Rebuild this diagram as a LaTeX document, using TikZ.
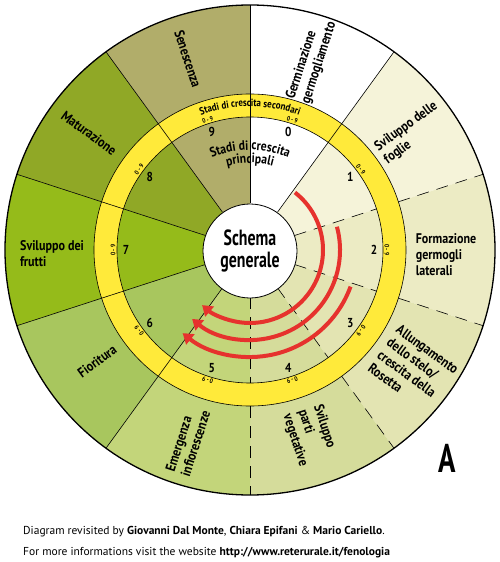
\documentclass[tikz,border=0pt]{standalone}
\usepackage{fontspec}
\setmainfont{PT Sans}
\newfontfamily\stagefont{PT Sans}[FakeStretch=0.86]
\newfontfamily\narrowfont{PT Sans}[FakeStretch=0.72]
\usetikzlibrary{
    arrows.meta, % for the tips of the red arcs
    decorations.text % for the captions that follow the rings
}

\definecolor{stage0}{RGB}{255,255,255}
\definecolor{stage1}{RGB}{245,243,217}
\definecolor{stage2}{RGB}{236,235,196}
\definecolor{stage3}{RGB}{227,228,178}
\definecolor{stage4}{RGB}{213,220,155}
\definecolor{stage5}{RGB}{195,213,122}
\definecolor{stage6}{RGB}{168,198,94}
\definecolor{stage7}{RGB}{149,187,26}
\definecolor{stage8}{RGB}{144,168,38}
\definecolor{stage9}{RGB}{177,173,106}
\definecolor{ringyellow}{RGB}{255,234,58}
\definecolor{arcred}{RGB}{230,50,45}

\begin{document}
\begin{tikzpicture}[
    x=1pt,y=1pt,
    stage/.style        = {font=\stagefont\bfseries\fontsize{14}{16}\selectfont,align=left,inner sep=0pt},
    stage number/.style = {font=\stagefont\bfseries\fontsize{13}{13}\selectfont,inner sep=0pt},
    sub range/.style    = {font=\stagefont\bfseries\fontsize{6.5}{6.5}\selectfont,inner sep=0pt},
    hub/.style          = {circle,draw,line width=0.8pt,fill=white,minimum size=94pt,inner sep=0pt,align=center,
                           font=\narrowfont\bfseries\fontsize{22}{22}\selectfont},
    boundary/.style     = {line width=0.6pt},
    growth arrow/.style = {draw=arcred,line width=4pt,-{Triangle[width=13pt,length=10pt]}}
]
\useasboundingbox (-250,250) rectangle (249,-312);

% Sectors of the main stages

\foreach \i in {0,...,9}
    \fill[stage\i] (0,0) -- (90-36*\i:245) arc[start angle=90-36*\i,end angle=54-36*\i,radius=245] -- cycle;

\fill[ringyellow,even odd rule] (0,0) circle (156) (0,0) circle (133);
\draw[boundary] (0,0) circle (156) (0,0) circle (133);

\foreach \k in {0,1,6,7,8,9}
    \draw[boundary] (90-36*\k:47) -- (90-36*\k:245);
\foreach \k in {2,...,5}
    \draw[boundary,dash pattern=on 12pt off 8pt] (90-36*\k:47) -- (90-36*\k:133) (90-36*\k:156) -- (90-36*\k:245);

\draw[line width=1.3pt] (0,0) circle (245);

% Captions along the rings

\path[decorate,decoration={text along path,text align=center,
    text={|\stagefont\bfseries\fontsize{10.5}{10.5}\selectfont|Stadi di crescita secondari}}]
    (135:143.5) arc[start angle=135,end angle=45,radius=143.5];
\path[decorate,decoration={text along path,text align=center,
    text={|\stagefont\bfseries\fontsize{13.5}{13.5}\selectfont|Stadi di crescita}}]
    (150:100) arc[start angle=150,end angle=30,radius=100];
\path[decorate,decoration={text along path,text align=center,
    text={|\stagefont\bfseries\fontsize{13.5}{13.5}\selectfont|principali}}]
    (150:87) arc[start angle=150,end angle=30,radius=87];

\foreach \i in {0,...,9} {
    \node[stage number] (n\i) at (72-36*\i:124) {\i};
    \node[sub range,rotate=-18-36*\i] (r\i) at (72-36*\i:137) {0 - 9};
}

% Red arcs

\draw[growth arrow] (52:73)  arc[start angle=52,end angle=-131,radius=73];
\draw[growth arrow] (15:90)  arc[start angle=15,end angle=-130,radius=90];
\draw[growth arrow] (-20:107) arc[start angle=-20,end angle=-129,radius=107];

\node[hub] (hub) at (0,-1) {Schema\\generale};

% Stage names

\node[stage,rotate=72]  (germ)  at (72:199)   {Germinazione\\germogliamento};
\node[stage,rotate=36]  (leaf)  at (36:199)   {Sviluppo delle\\foglie};
\node[stage]            (side)  at (196,-5)   {Formazione\\germogli\\laterali};
\node[stage,rotate=-36] (stem)  at (-36:202)  {Allungamento\\dello stelo/\\crescita della\\Rosetta};
\node[stage,rotate=-72] (veg)   at (-72:195)  {Sviluppo\\parti\\vegetative};
\node[stage,rotate=72]  (infl)  at (-108:201) {Emergenza\\infiorescenze};
\node[stage,rotate=36]  (bloom) at (-144:189) {Fioritura};
\node[stage]            (fruit) at (-198,-4)  {Sviluppo dei\\frutti};
\node[stage,rotate=-36] (ripe)  at (144:199)  {Maturazione};
\node[stage,rotate=-72] (sen)   at (108:201)  {Senescenza};

\node[font=\narrowfont\bfseries\fontsize{40}{40}\selectfont] (panel) at (197,-208) {A};

% Credits

\node[anchor=base west,inner sep=0pt,font=\fontsize{11.5}{12}\selectfont] (credit) at (-227,-284)
    {Diagram revisited by \textbf{Giovanni Dal Monte}, \textbf{Chiara Epifani} \& \textbf{Mario Cariello}.};
\node[anchor=base west,inner sep=0pt,font=\fontsize{11.5}{12}\selectfont] (web) at (-227,-305)
    {For more informations visit the website \textbf{http://www.reterurale.it/fenologia}};

\end{tikzpicture}
\end{document}
